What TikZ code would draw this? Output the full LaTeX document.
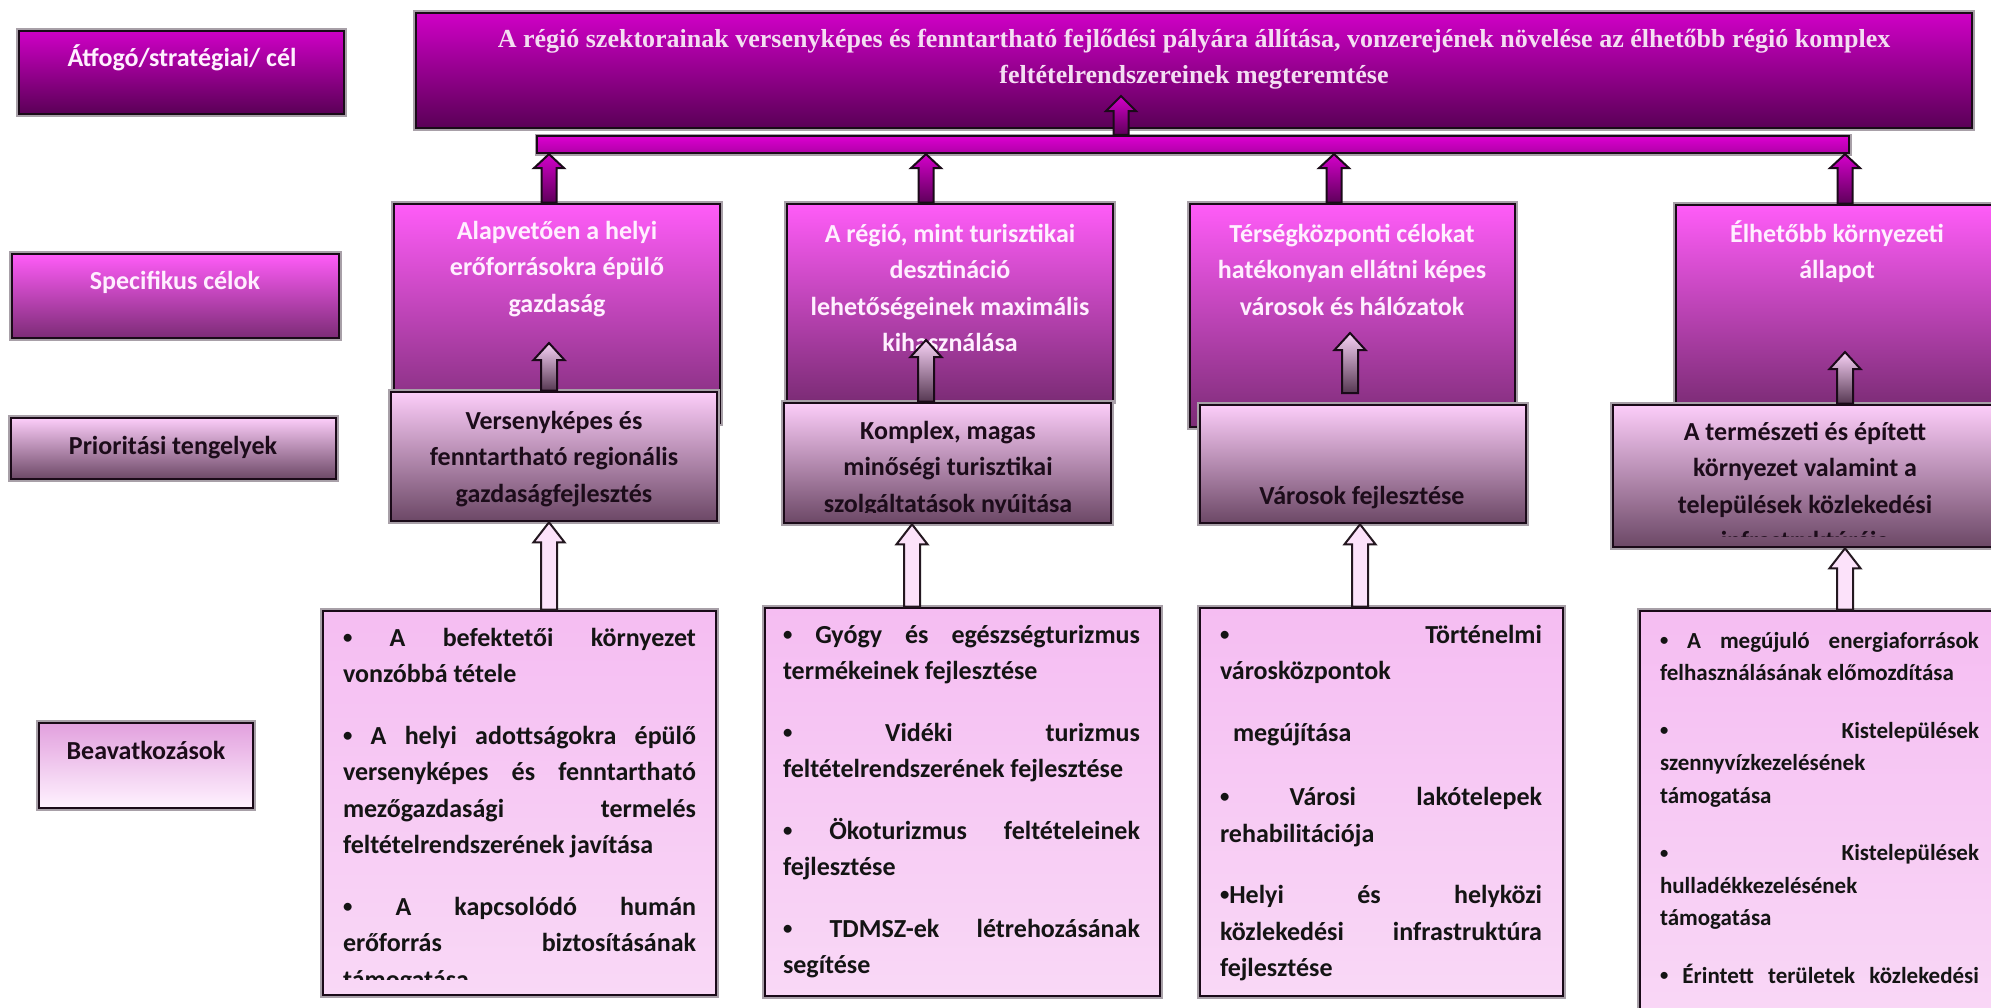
\documentclass[tikz,border=0pt]{standalone}
\usepackage{fontspec}
\setmainfont{Carlito}
\newfontfamily\titlefont{Liberation Serif}
\usetikzlibrary{calc}

\definecolor{edge}{HTML}{1A0A18}
\definecolor{halo}{HTML}{A8A0A8}
\definecolor{goalTop}{HTML}{CF00C6}
\definecolor{goalMid}{HTML}{9A0092}
\definecolor{goalBot}{HTML}{5A0056}
\definecolor{specTop}{HTML}{FF5CF8}
\definecolor{specMid}{HTML}{D04CC6}
\definecolor{specBot}{HTML}{7C2C76}
\definecolor{prioTop}{HTML}{FCCDF9}
\definecolor{prioMid}{HTML}{D8AED4}
\definecolor{prioBot}{HTML}{6C4866}
\definecolor{actTop}{HTML}{F5BDF2}
\definecolor{actMid}{HTML}{FDEAFC}
\definecolor{actBot}{HTML}{F9D8F6}
\definecolor{labTop}{HTML}{E2A0DE}
\definecolor{labBot}{HTML}{FFF3FF}
\definecolor{busTop}{HTML}{DC00D0}
\definecolor{busBot}{HTML}{B000A8}
\definecolor{magTop}{HTML}{D400CA}
\definecolor{magBot}{HTML}{5E005A}
\definecolor{pinkTop}{HTML}{F8D2F6}
\definecolor{pinkBot}{HTML}{563852}
\definecolor{paleEdge}{HTML}{241820}
\definecolor{paleFill}{HTML}{FCE2FA}
\definecolor{titleInk}{HTML}{F4DDF2}
\definecolor{specInk}{HTML}{FFEFFF}
\definecolor{darkInk}{HTML}{1C0C1A}

% small bullet used in the intervention lists
\newcommand\bul{\raisebox{0.1em}{\scalebox{0.72}{•}}}

% upward block arrow: [style]{base}{tip}{shaft half width}{head half width}{head length}
\newcommand\blockarrow[6][]{%
  \path[#1] let \p1=(#2), \p2=(#3) in
    (\x1-#4,\y1) -- (\x1-#4,\y2-#6) -- (\x1-#5,\y2-#6) -- (\x1,\y2)
    -- (\x1+#5,\y2-#6) -- (\x1+#4,\y2-#6) -- (\x1+#4,\y1) -- cycle;}

\tikzset{
  box/.style={rectangle, draw=edge, line width=2.6pt, inner sep=0pt,
    preaction={draw=halo, line width=5.5pt}},
  goalbox/.style={box, top color=goalTop, middle color=goalMid, bottom color=goalBot},
  specbox/.style={box, top color=specTop, middle color=specMid, bottom color=specBot},
  priobox/.style={box, top color=prioTop, middle color=prioMid, bottom color=prioBot},
  actbox/.style={box, top color=actTop, middle color=actMid, bottom color=actBot},
  actlabel/.style={box, top color=labTop, bottom color=labBot},
  busbar/.style={rectangle, draw=edge, line width=2.2pt, inner sep=0pt,
    preaction={draw=halo, line width=5pt}, top color=busTop, bottom color=busBot},
  % texts are placed by the baseline of their last line
  txt/.style={inner sep=0pt, anchor=base, align=center,
    font=\bfseries\fontsize{26pt}{36.5pt}\selectfont},
  lighttxt/.style={txt, text=specInk},
  darktxt/.style={txt, text=darkInk},
  acttxt/.style={txt, align=left, text=black!92},
  smallacttxt/.style={acttxt, font=\bfseries\fontsize{23pt}{32.5pt}\selectfont},
  titletxt/.style={inner sep=0pt, anchor=base, align=center, text=titleInk,
    font=\titlefont\bfseries\fontsize{26pt}{36pt}\selectfont},
  magarrow/.style={draw=edge, line width=2pt, top color=magTop, bottom color=magBot},
  pinkarrow/.style={draw=edge, line width=2pt, top color=pinkTop, bottom color=pinkBot},
  palearrow/.style={draw=paleEdge, line width=2pt, fill=paleFill},
}

\begin{document}
\begin{tikzpicture}[x=1pt,y=-1pt]
\useasboundingbox (0,0) rectangle (1991,1007);
\clip (0,0) rectangle (1991,1007);
\fill[white] (0,0) rectangle (1991,1007);

% ---- level labels (left column)
\node[goalbox, minimum width=325pt, minimum height=83pt] (l1) at (181.5,72.5) {};
\node[lighttxt] (l1t) at (182,66) {Átfogó/stratégiai/ cél};
\node[specbox, minimum width=327pt, minimum height=84pt] (l2) at (175.5,296) {};
\node[lighttxt] (l2t) at (175,289) {Specifikus célok};
\node[priobox, minimum width=325pt, minimum height=61pt] (l3) at (173.5,448.5) {};
\node[darktxt] (l3t) at (173,454) {Prioritási tengelyek};
\node[actlabel, minimum width=214pt, minimum height=85pt] (l4) at (146,765.5) {};
\node[darktxt] (l4t) at (146,759) {Beavatkozások};

% ---- overall goal
\node[goalbox, minimum width=1556pt, minimum height=115pt] (goal) at (1194,70.5) {};
\node[titletxt] (goalt) at (1194,83) {A régió szektorainak versenyképes és fenntartható fejlődési pályára állítása, vonzerejének növelése az élhetőbb régió komplex\\feltételrendszereinek megteremtése};

% ---- specific goals
\node[specbox, minimum width=326pt, minimum height=219pt] (s1) at (557,313.5) {};
\node[lighttxt] (s1t) at (557,312) {Alapvetően a helyi\\erőforrásokra épülő\\gazdaság};
\node[specbox, minimum width=326pt, minimum height=197pt] (s2) at (950,302.5) {};
\node[lighttxt] (s2t) at (950,351.5) {A régió, mint turisztikai\\desztináció\\lehetőségeinek maximális\\kihasználása};
\node[specbox, minimum width=325pt, minimum height=223pt] (s3) at (1352.5,315.5) {};
\node[lighttxt] (s3t) at (1352,315) {Térségközponti célokat\\hatékonyan ellátni képes\\városok és hálózatok};
\node[specbox, minimum width=326pt, minimum height=201pt] (s4) at (1839,305.5) {};
\node[lighttxt] (s4t) at (1837,278.5) {Élhetőbb környezeti\\állapot};

% ---- priority axes
\node[priobox, minimum width=326pt, minimum height=129pt] (p1) at (554,456.5) {};
\node[darktxt] (p1t) at (554,502) {Versenyképes és\\fenntartható regionális\\gazdaságfejlesztés};
\node[priobox, minimum width=327pt, minimum height=120pt] (p2) at (947.5,463) {};
\begin{scope}
  \clip (784,403) rectangle (1111,512);
  \node[darktxt] (p2t) at (948,512) {Komplex, magas\\minőségi turisztikai\\szolgáltatások nyújtása};
\end{scope}
\node[priobox, minimum width=326pt, minimum height=118pt] (p3) at (1363,464) {};
\node[darktxt] (p3t) at (1362,504) {Városok fejlesztése};
\node[priobox, minimum width=380pt, minimum height=142pt] (p4) at (1803,476) {};
\begin{scope}
  \clip (1613,405) rectangle (1993,536);
  \node[darktxt] (p4t) at (1805,549.5) {A természeti és épített\\környezet valamint a\\települések közlekedési\\infrastruktúrája};
\end{scope}

% ---- priority -> specific arrows
\blockarrow[pinkarrow]{549,0 |- p1.north}{549,343}{8pt}{15.5pt}{17pt}
\blockarrow[pinkarrow]{926,0 |- p2.north}{926,340}{8pt}{15.5pt}{17pt}
\blockarrow[pinkarrow]{1350,393}{1350,333}{8pt}{15.5pt}{17pt}
\blockarrow[pinkarrow]{1845,0 |- p4.north}{1845,352}{8pt}{15.5pt}{17pt}

% ---- interventions
\node[actbox, minimum width=393pt, minimum height=384pt] (b1) at (519.5,803) {};
\begin{scope}
  \clip (323,611) rectangle (716,979);
  \node[acttxt] (b1t) at (519.5,988) {%
    \makebox[353pt][s]{\bul{} A befektetői környezet}\\
    \makebox[353pt][l]{vonzóbbá tétele}\\[25pt]
    \makebox[353pt][s]{\bul{} A helyi adottságokra épülő}\\
    \makebox[353pt][s]{versenyképes és fenntartható}\\
    \makebox[353pt][s]{mezőgazdasági termelés}\\
    \makebox[353pt][l]{feltételrendszerének javítása}\\[25pt]
    \makebox[353pt][s]{\bul{} A kapcsolódó humán}\\
    \makebox[353pt][s]{erőforrás biztosításának}\\
    \makebox[353pt][l]{támogatása}};
\end{scope}
\node[actbox, minimum width=395pt, minimum height=388pt] (b2) at (962.5,802) {};
\node[acttxt] (b2t) at (961.5,973.5) {%
  \makebox[357pt][s]{\bul{} Gyógy és egészségturizmus}\\
  \makebox[357pt][l]{termékeinek fejlesztése}\\[25pt]
  \makebox[357pt][s]{\bul{} Vidéki turizmus}\\
  \makebox[357pt][l]{feltételrendszerének fejlesztése}\\[25pt]
  \makebox[357pt][s]{\bul{} Ökoturizmus feltételeinek}\\
  \makebox[357pt][l]{fejlesztése}\\[25pt]
  \makebox[357pt][s]{\bul{} TDMSZ-ek létrehozásának}\\
  \makebox[357pt][l]{segítése}};
\node[actbox, minimum width=363pt, minimum height=388pt] (b3) at (1381.5,802) {};
\node[acttxt] (b3t) at (1381,976.5) {%
  \makebox[322pt][s]{\bul{} Történelmi}\\
  \makebox[322pt][l]{városközpontok}\\[25pt]
  \makebox[322pt][l]{\hspace*{13pt}megújítása}\\[28pt]
  \makebox[322pt][s]{\bul{} Városi lakótelepek}\\
  \makebox[322pt][l]{rehabilitációja}\\[25pt]
  \makebox[322pt][s]{\bul{}Helyi és helyközi}\\
  \makebox[322pt][s]{közlekedési infrastruktúra}\\
  \makebox[322pt][l]{fejlesztése}};
\node[actbox, minimum width=370pt, minimum height=419pt] (b4) at (1825,820.5) {};
\node[smallacttxt] (b4t) at (1819.5,983) {%
  \makebox[319pt][s]{\bul{} A megújuló energiaforrások}\\
  \makebox[319pt][l]{felhasználásának előmozdítása}\\[25pt]
  \makebox[319pt][s]{\bul{} Kistelepülések}\\
  \makebox[319pt][l]{szennyvízkezelésének}\\
  \makebox[319pt][l]{támogatása}\\[25pt]
  \makebox[319pt][s]{\bul{} Kistelepülések}\\
  \makebox[319pt][l]{hulladékkezelésének}\\
  \makebox[319pt][l]{támogatása}\\[25pt]
  \makebox[319pt][s]{\bul{} Érintett területek közlekedési}};

% ---- intervention -> priority arrows
\blockarrow[palearrow]{549,0 |- b1.north}{549,0 |- p1.south}{8pt}{15.5pt}{20pt}
\blockarrow[palearrow]{912,0 |- b2.north}{912,0 |- p2.south}{8pt}{15.5pt}{20pt}
\blockarrow[palearrow]{1360,0 |- b3.north}{1360,0 |- p3.south}{8pt}{15.5pt}{20pt}
\blockarrow[palearrow]{1845,0 |- b4.north}{1845,0 |- p4.south}{8pt}{15.5pt}{20pt}

% ---- collecting bar and arrows into the overall goal
\node[busbar, minimum width=1312pt, minimum height=17pt] (bus) at (1193,144.5) {};
\blockarrow[magarrow]{549,0 |- s1.north}{549,0 |- bus.south}{7.5pt}{15pt}{14pt}
\blockarrow[magarrow]{926,0 |- s2.north}{926,0 |- bus.south}{7.5pt}{15pt}{14pt}
\blockarrow[magarrow]{1334,0 |- s3.north}{1334,0 |- bus.south}{7.5pt}{15pt}{14pt}
\blockarrow[magarrow]{1845,0 |- s4.north}{1845,0 |- bus.south}{7.5pt}{15pt}{14pt}
\blockarrow[magarrow]{1121,0 |- bus.north}{1121,96}{7.5pt}{15pt}{15pt}
\end{tikzpicture}
\end{document}
